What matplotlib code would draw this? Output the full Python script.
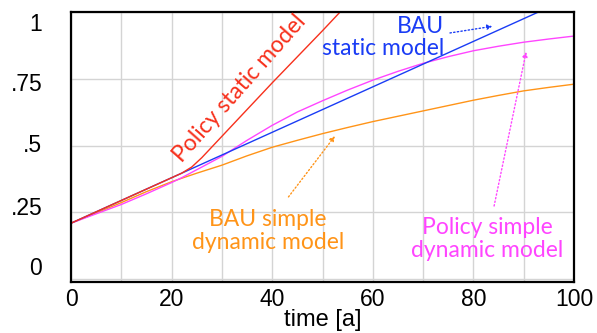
import matplotlib
matplotlib.use('Agg')
import matplotlib.pyplot as plt

# data
t_policy_static = [0, 10, 20, 22, 24, 26, 28, 30, 40, 50, 56]
policy_static = [0.21, 0.295, 0.38, 0.397, 0.42, 0.455, 0.495, 0.535, 0.735, 0.93, 1.05]

t = [0, 5, 10, 15, 20, 22, 25, 28, 30, 35, 40, 45, 50, 55, 60, 65, 70, 75,
     80, 85, 90, 95, 100]
bau_static = [0.21, 0.2525, 0.295, 0.3375, 0.38, 0.397, 0.4225, 0.448, 0.465,
              0.5075, 0.55, 0.5925, 0.635, 0.6775, 0.72, 0.7625, 0.805,
              0.8475, 0.89, 0.9325, 0.975, 1.0175, 1.06]
policy_dynamic = [0.21, 0.245, 0.28, 0.32, 0.362, 0.38, 0.41, 0.44, 0.46,
                  0.52, 0.576, 0.626, 0.668, 0.708, 0.745, 0.778, 0.808,
                  0.833, 0.855, 0.872, 0.887, 0.899, 0.91]
bau_dynamic = [0.21, 0.248, 0.287, 0.328, 0.365, 0.378, 0.397, 0.415, 0.427,
               0.462, 0.494, 0.52, 0.545, 0.568, 0.59, 0.61, 0.63, 0.65,
               0.67, 0.688, 0.705, 0.718, 0.73]

x_ticks = [0, 20, 40, 60, 80, 100]
y_ticks = [0, 0.25, 0.5, 0.75, 1]
y_labels = ['0', '.25', '.5', '.75', '1']

RED = '#f7301c'
BLUE = '#1a3cf5'
MAGENTA = '#ff45ff'
ORANGE = '#ff9418'
TXT = 'Lato'
NUM = 'Liberation Sans'

fig = plt.figure(figsize=(5.97, 3.33), dpi=100)
ax = fig.add_axes([71/597, 1-282/333, 503/597, 270/333])

ax.plot(t, bau_dynamic, color=ORANGE, lw=1.0)
ax.plot(t, policy_dynamic, color=MAGENTA, lw=1.0)
ax.plot(t, bau_static, color=BLUE, lw=1.0)
ax.plot(t_policy_static, policy_static, color=RED, lw=1.0)

ax.set_xlim(0, 100)
ax.set_ylim(-0.01, 1.0)
ax.set_xticks(range(0, 101, 10))
ax.set_xticklabels([str(v) if v in x_ticks else '' for v in range(0, 101, 10)],
                   fontsize=16.5, family=NUM)
ax.set_yticks(y_ticks)
ax.set_yticklabels([])
ax.tick_params(length=0, pad=4)
ax.grid(True, color='#d4d4d4', lw=1.0)
ax.set_axisbelow(True)
for s in ax.spines.values():
    s.set_linewidth(1.6)
    s.set_color('black')

# Vensim style y labels, spaced a bit tighter than the grid
label_pos = [0.041, 0.266, 0.5, 0.728, 0.955]
for lab, yp in zip(y_labels, label_pos):
    ax.text(-0.057, yp, lab, transform=ax.get_yaxis_transform(),
            ha='right', va='center', fontsize=16.5, family=NUM)

ax.set_xlabel('time [a]', fontsize=17, family=NUM, labelpad=-1)

# annotations
ax.text(33.6, 0.713, 'Policy static model', color=RED, fontsize=16.5, family=TXT,
        rotation=48.5, ha='center', va='center', rotation_mode='anchor')
ax.text(74.2, 0.905, 'BAU\nstatic model', color=BLUE, fontsize=16.5, family=TXT,
        ha='right', va='center', multialignment='right', linespacing=1.05)
ax.text(39.2, 0.18, 'BAU simple\ndynamic model', color=ORANGE, fontsize=16.5,
        family=TXT, ha='center', va='center', linespacing=1.12)
ax.text(82.7, 0.15, 'Policy simple\ndynamic model', color=MAGENTA, fontsize=16.5,
        family=TXT, ha='center', va='center', linespacing=1.12)

arrow = dict(arrowstyle='-|>', lw=1.0, ls=':', mutation_scale=7)
ax.annotate('', xy=(84.3, 0.948), xytext=(74.8, 0.92),
            arrowprops=dict(arrow, color=BLUE))
ax.annotate('', xy=(52.8, 0.544), xytext=(42.9, 0.30),
            arrowprops=dict(arrow, color=ORANGE))
ax.annotate('', xy=(90.6, 0.861), xytext=(84.0, 0.264),
            arrowprops=dict(arrow, color=MAGENTA))

fig.savefig('out.png', dpi=100)
